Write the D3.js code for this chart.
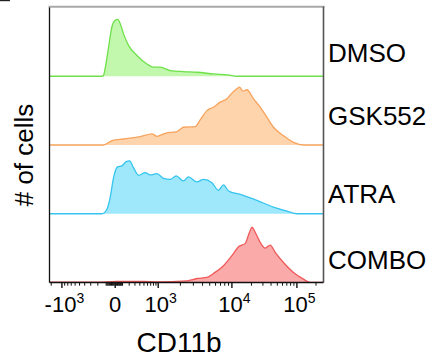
<!DOCTYPE html>
<html>
<head>
<meta charset="utf-8">
<script src="https://cdn.jsdelivr.net/npm/d3@7"></script>
<style>
  html, body { margin: 0; padding: 0; background: #fff; }
  svg { display: block; }
  text { font-family: "Liberation Sans", Arial, sans-serif; fill: #000; }
</style>
</head>
<body>
<div id="chart"></div>
<script>
// ---------------- data ----------------
const categories = ["DMSO", "GSK552", "ATRA", "COMBO"];

// [CD11b value, relative # of cells]
const dmso = [[-1600,0],[-150,0],[-131,1.2],[-111,14],[-73,50],[-36,86],[0,97.6],[36,99.3],[67,92],[114,74],[189,53.8],[338,36.3],[582,21.5],[800,15.8],[1064,15.8],[1455,10],[2204,8.2],[3350,7],[5625,4],[10000,1.2],[11500,0],[262144,0]];
const gsk552 = [[-1600,0],[-131,0],[-36,7.5],[114,10.5],[409,14.5],[742,19.3],[942,15.2],[1245,20.5],[1794,23.3],[2204,31],[3177,32],[3715,43.8],[4580,60],[5625,66],[6937,74.8],[8550,80.6],[10000,90.6],[11940,98.1],[13090,101],[14760,94],[17010,96.4],[21490,80.6],[27250,66],[34550,48.5],[43650,31],[62200,16.3],[88700,4.7],[127000,0],[262144,0]];
const atra = [[-1600,0],[-150,0],[-92,7.5],[-55,28],[-18,63],[31,81.8],[91,83.6],[153,91],[205,92.3],[273,80.6],[372,67.1],[534,71.8],[684,67.8],[942,70],[1180,61.8],[1455,60.1],[1755,66],[2204,57.3],[2577,64.3],[3350,55.5],[4120,60.1],[5353,54.3],[6580,40.8],[7690,50.3],[8990,39.8],[13420,33.8],[24250,23.3],[43650,11.7],[70200,4.7],[100000,0],[262144,0]];
const combo = [[-1600,0.5],[-200,0.6],[23,1.8],[500,1.8],[942,1.2],[2452,3],[3350,7],[4580,8.8],[5625,15.8],[7690,29.3],[10000,46.8],[12630,62.5],[16020,68.3],[18660,87.6],[20310,96.4],[22830,87.6],[27250,70],[32530,60.1],[38830,65.3],[46350,52.6],[62200,35],[88700,17.5],[127000,5.8],[162000,0],[262144,0]];

const seriesValues = [dmso, gsk552, atra, combo];

const majorTickValues = [-1000, 0, 1000, 10000, 100000];
const majorTickLabels = [["-10","3"], ["0",""], ["10","3"], ["10","4"], ["10","5"]];
const xTitle = "CD11b";
const yTitle = "# of cells";

// ---------------- layout ----------------
const W = 431, H = 357;
const plot = { left: 49.5, right: 323.5, top: 7.5, bottom: 282.5 };
const pw = plot.right - plot.left;

const strokeColors = ["#6fe04a", "#f7a35c", "#35c4ef", "#f05a5a"];
const fillColors   = ["#c2f7ae", "#fdd4ab", "#9fe8fc", "#fbaaaa"];
const labelBaselines = [61.7, 125, 203.3, 269.3];

// biexponential-like display transform (FlowJo style axis)
function T(v) {
  return v <= 1000 ? Math.asinh(v / 300) / Math.asinh(1000 / 300) : 1 + Math.log10(v / 1000);
}
const xDisp = d3.scaleLinear()
  .domain([T(-1600), -1, 0, 1, 2, 3, T(262144)])
  .range([0, 0.0453, 0.2398, 0.3967, 0.6657, 0.9029, 1].map(f => plot.left + f * pw));
const x = v => xDisp(T(v));

const rows = d3.scaleBand().domain(categories).range([plot.top, plot.bottom]).paddingInner(0);

const svg = d3.select("#chart").append("svg").attr("width", W).attr("height", H);

svg.append("defs").append("clipPath").attr("id", "clip")
  .append("rect").attr("x", plot.left).attr("y", plot.top).attr("width", pw).attr("height", plot.bottom - plot.top);

// stray fragment at top-left of the original crop
svg.append("rect").attr("x", 0).attr("y", 0).attr("width", 10).attr("height", 1.2).attr("fill", "#222");

const g = svg.append("g").attr("clip-path", "url(#clip)");

categories.forEach((cat, i) => {
  const top = rows(cat), bot = top + rows.bandwidth();
  const y = d3.scaleLinear().domain([0, 120]).range([bot, top]);
  const area = d3.area().x(d => x(d[0])).y0(bot).y1(d => y(d[1])).curve(d3.curveMonotoneX);
  const line = d3.line().x(d => x(d[0])).y(d => y(d[1])).curve(d3.curveMonotoneX);
  g.append("path").datum(seriesValues[i]).attr("d", area).attr("fill", fillColors[i]);
  g.append("path").datum(seriesValues[i]).attr("d", line).attr("fill", "none")
    .attr("stroke", strokeColors[i]).attr("stroke-width", 1.3).attr("stroke-linejoin", "round");
  svg.append("text").attr("x", 328).attr("y", labelBaselines[i])
    .attr("font-size", 26).text(cat);
});

// frame
svg.append("line").attr("x1", plot.left - 1).attr("x2", plot.right + 1).attr("y1", plot.top - 0.8).attr("y2", plot.top - 0.8)
  .attr("stroke", "#a8a8a8").attr("stroke-width", 2);
svg.append("line").attr("x1", plot.left).attr("x2", plot.left).attr("y1", plot.top).attr("y2", plot.bottom)
  .attr("stroke", "#111").attr("stroke-width", 1.3);
svg.append("line").attr("x1", plot.right).attr("x2", plot.right).attr("y1", plot.top - 1).attr("y2", plot.bottom)
  .attr("stroke", "#555").attr("stroke-width", 1.6);
svg.append("line").attr("x1", plot.left).attr("x2", plot.right).attr("y1", plot.bottom).attr("y2", plot.bottom)
  .attr("stroke", "#111").attr("stroke-width", 1.3);

// minor ticks
const minor = [];
for (let m = 1; m <= 9; m++) { minor.push(-m * 100, -m * 10, m * 10, m * 100); }
for (let m = 2; m <= 9; m++) { minor.push(m * 1000, m * 10000); }
minor.push(200000, -1500);
const ax = svg.append("g");
ax.selectAll("line.minor").data(minor).join("line").attr("class", "minor")
  .attr("x1", d => x(d)).attr("x2", d => x(d))
  .attr("y1", plot.bottom).attr("y2", plot.bottom + 3.2)
  .attr("stroke", "#111").attr("stroke-width", 1);
ax.selectAll("line.major").data(majorTickValues).join("line").attr("class", "major")
  .attr("x1", d => x(d)).attr("x2", d => x(d))
  .attr("y1", plot.bottom).attr("y2", plot.bottom + 5.5)
  .attr("stroke", "#111").attr("stroke-width", 1.4);

const tl = ax.selectAll("text.tl").data(majorTickValues).join("text").attr("class", "tl")
  .attr("x", (d, i) => x(d) + (majorTickLabels[i][1] ? 2.5 : 0))
  .attr("y", 311.7).attr("text-anchor", "middle").attr("font-size", 22);
tl.append("tspan").text((d, i) => majorTickLabels[i][0]);
tl.append("tspan").attr("font-size", 14).attr("dy", -8.4).text((d, i) => majorTickLabels[i][1]);

svg.append("text").attr("x", 179).attr("y", 351.5).attr("text-anchor", "middle")
  .attr("font-size", 28).text(xTitle);

svg.append("text").attr("transform", "translate(32.5,155) rotate(-90)")
  .attr("text-anchor", "middle").attr("font-size", 26).text(yTitle);
</script>
</body>
</html>
